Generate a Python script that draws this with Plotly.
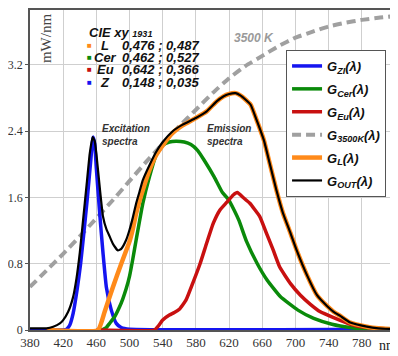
import plotly.graph_objects as go

# ---------------- data ----------------
wl_zi = [380, 416, 424, 428, 432, 437, 441, 445, 449, 453, 456, 458, 460, 464, 468, 472, 478, 484, 490, 500, 820]
g_zi = [0.0, 0.0, 0.01, 0.06, 0.20, 0.50, 0.80, 1.18, 1.58, 2.02, 2.33, 2.25, 1.95, 1.41, 0.93, 0.52, 0.24, 0.08, 0.03, 0.01, 0.01]

wl_cer = [466, 472, 476, 482, 488, 492, 496, 500, 504, 508, 516, 524, 532, 540, 548, 556, 566, 574, 582, 590,
          602, 612, 619, 626, 632, 641, 654, 666, 682, 703, 722, 744, 766, 786, 820]
g_cer = [0.0, 0.03, 0.08, 0.16, 0.28, 0.38, 0.50, 0.65, 0.86, 1.09, 1.53, 1.85, 2.11, 2.23, 2.27, 2.28, 2.27, 2.24, 2.17, 2.05,
         1.85, 1.66, 1.58, 1.45, 1.32, 1.07, 0.80, 0.60, 0.40, 0.24, 0.14, 0.07, 0.03, 0.01, 0.0]

wl_eu = [460, 530, 534, 540, 548, 554, 560, 568, 576, 585, 593, 601, 609, 617, 625, 630, 637, 645, 657, 665,
         673, 681, 694, 706, 718, 730, 746, 766, 786, 820]
g_eu = [0.0, 0.0, 0.04, 0.12, 0.18, 0.21, 0.25, 0.36, 0.56, 0.80, 1.05, 1.29, 1.45, 1.54, 1.63, 1.66, 1.60, 1.53, 1.37, 1.17,
        0.97, 0.76, 0.56, 0.42, 0.31, 0.22, 0.15, 0.07, 0.03, 0.01]

wl_3500 = [380, 400, 420, 440, 460, 480, 500, 520, 540, 560, 580, 600, 620, 640, 660, 680, 700, 720, 740, 760, 780, 800, 820]
g_3500 = [0.52, 0.72, 0.92, 1.13, 1.35, 1.57, 1.80, 2.03, 2.25, 2.46, 2.66, 2.86, 3.04, 3.19, 3.31, 3.43, 3.53, 3.60, 3.665, 3.71, 3.745, 3.77, 3.79]

wl_l = [400, 462, 470, 480, 490, 500, 504, 508, 516, 524, 532, 540, 552, 564, 580, 593, 605, 613, 620, 628,
        634, 640, 646, 653, 662, 669, 677, 685, 694, 702, 714, 726, 738, 746, 754, 766, 786, 800, 820]
g_l = [0.0, 0.0, 0.22, 0.52, 0.80, 1.07, 1.22, 1.41, 1.69, 1.93, 2.11, 2.23, 2.38, 2.47, 2.56, 2.64, 2.76, 2.82, 2.85, 2.86,
       2.83, 2.78, 2.72, 2.54, 2.29, 2.01, 1.69, 1.41, 1.17, 0.95, 0.66, 0.42, 0.29, 0.22, 0.17, 0.09, 0.04, 0.02, 0.01]

wl_out = [380, 400, 408, 416, 420, 426, 432, 436, 440, 444, 448, 452, 455.5, 458, 460, 464, 468, 472, 476, 480,
          486, 490, 496, 500, 504, 508, 512, 516, 524, 532, 540, 552, 564, 580, 593, 605, 613, 620, 628, 634,
          640, 646, 653, 662, 669, 677, 685, 694, 702, 714, 726, 738, 746, 754, 766, 786, 800, 820]
g_out = [0.02, 0.02, 0.04, 0.08, 0.12, 0.22, 0.40, 0.62, 0.93, 1.33, 1.73, 2.13, 2.33, 2.28, 2.13, 1.73, 1.37, 1.22, 1.13, 1.04,
         0.96, 0.98, 1.09, 1.21, 1.36, 1.53, 1.67, 1.81, 1.99, 2.15, 2.27, 2.40, 2.48, 2.56, 2.64, 2.76, 2.82, 2.85, 2.86, 2.83,
         2.78, 2.72, 2.54, 2.29, 2.01, 1.69, 1.41, 1.17, 0.95, 0.66, 0.42, 0.29, 0.22, 0.17, 0.09, 0.04, 0.02, 0.01]

x_ticks = [380, 420, 460, 500, 540, 580, 620, 660, 700, 740, 780]
y_ticks = [0, 0.8, 1.6, 2.4, 3.2]
y_ticktext = ["0", "0.8", "1.6", "2.4", "3.2"]

cie_names = ["L", "Cer", "Eu", "Z"]
cie_colors = ["#ff8a1a", "#0a8a0a", "#c81010", "#1515f0"]
cie_xy = ["0,476 ; 0,487", "0,462 ; 0,527", "0,642 ; 0,366", "0,148 ; 0,035"]

# ---------------- figure ----------------
SANS = "Liberation Sans, Arial, sans-serif"
SERIF = "Liberation Serif, Times New Roman, serif"

fig = go.Figure()


def add(x, y, label, color, width, rank, dash="solid"):
    fig.add_trace(go.Scatter(
        x=x, y=y, mode="lines", name=label, legendrank=rank, legendgroup=label,
        line=dict(color=color, width=width, dash=dash, shape="spline", smoothing=0.4),
        hoverinfo="skip"))


add(wl_3500, g_3500, "<b><i>G<sub>3500K</sub>(λ)</i></b>", "#a0a0a0", 4, 4, dash="9px,5px")
add(wl_zi, g_zi, "<b><i>G<sub>ZI</sub>(λ)</i></b>", "#1515f0", 3.5, 1)
add(wl_cer, g_cer, "<b><i>G<sub>Cer</sub>(λ)</i></b>", "#0a8a0a", 3.5, 2)
add(wl_eu, g_eu, "<b><i>G<sub>Eu</sub>(λ)</i></b>", "#c81010", 3.5, 3)
add(wl_l, g_l, "<b><i>G<sub>L</sub>(λ)</i></b>", "#ff8a1a", 4.5, 5)
add(wl_out, g_out, "<b><i>G<sub>OUT</sub>(λ)</i></b>", "#000000", 2.2, 6)

ann = []
# CIE block
ann.append(dict(x=449, y=3.59, xref="x", yref="y", xanchor="left", yanchor="middle", showarrow=False,
                text="<b><i>CIE xy <span style='font-size:9px'>1931</span></i></b>",
                font=dict(family=SANS, size=13, color="#111")))
row_y = [3.44, 3.29, 3.14, 2.99]
for nm_, col, xy, yy in zip(cie_names, cie_colors, cie_xy, row_y):
    ann.append(dict(x=451.5, y=yy, xref="x", yref="y", xanchor="center", yanchor="middle", showarrow=False,
                    text="■", font=dict(family=SANS, size=8, color=col)))
    ann.append(dict(x=471, y=yy, xref="x", yref="y", xanchor="center", yanchor="middle", showarrow=False,
                    text="<b><i>%s</i></b>" % nm_, font=dict(family=SANS, size=13, color="#111")))
    ann.append(dict(x=488, y=yy, xref="x", yref="y", xanchor="left", yanchor="middle", showarrow=False,
                    text="<b><i>%s</i></b>" % xy, font=dict(family=SANS, size=13, color="#111")))

ann.append(dict(x=464, y=2.35, xref="x", yref="y", xanchor="left", yanchor="middle", showarrow=False, align="left",
                text="<b><i>Excitation<br>spectra</i></b>", font=dict(family=SANS, size=10, color="#333")))
ann.append(dict(x=591, y=2.35, xref="x", yref="y", xanchor="left", yanchor="middle", showarrow=False, align="left",
                text="<b><i>Emission<br>spectra</i></b>", font=dict(family=SANS, size=10, color="#333")))
ann.append(dict(x=624, y=3.53, xref="x", yref="y", xanchor="left", yanchor="middle", showarrow=False,
                text="<b><i>3500 K</i></b>", font=dict(family=SANS, size=12, color="#9a9a9a")))
ann.append(dict(x=400, y=3.52, xref="x", yref="y", xanchor="center", yanchor="middle", showarrow=False,
                text="mW/nm", textangle=-90, font=dict(family=SERIF, size=15, color="#444")))
ann.append(dict(x=798, y=0, xref="x", yref="paper", xanchor="left", yanchor="middle", yshift=-15, showarrow=False,
                text="nm", font=dict(family=SERIF, size=14, color="#222")))

# The page body has an 8 px default margin, so the figure is 8 px smaller and
# its margins are 8 px smaller on the left/top to land where the reference is.
fig.update_layout(
    width=390, height=348,
    margin=dict(l=22, r=3, t=2, b=26),
    paper_bgcolor="white", plot_bgcolor="white",
    showlegend=True,
    legend=dict(x=0.7015, y=0.875, xanchor="left", yanchor="top",
                bgcolor="white", bordercolor="#555", borderwidth=1,
                font=dict(family=SANS, size=13, color="#111"),
                tracegroupgap=3, itemwidth=30, entrywidth=70, entrywidthmode="pixels"),
    annotations=ann,
    xaxis=dict(range=[380, 820], tickvals=x_ticks, showgrid=True, gridcolor="#cfcfcf", gridwidth=1,
               showline=True, linecolor="#555", linewidth=1.5, mirror=True, zeroline=False, ticks="",
               tickfont=dict(family=SERIF, size=13, color="#333"), automargin=False),
    yaxis=dict(range=[0, 3.864], tickvals=y_ticks, ticktext=y_ticktext, showgrid=True, gridcolor="#cfcfcf",
               gridwidth=1, showline=True, linecolor="#555", linewidth=1.5, mirror=True, zeroline=False,
               ticks="outside", ticklen=3, tickcolor="#555",
               tickfont=dict(family=SERIF, size=12, color="#333"), automargin=False),
)

fig.write_html("out.html")
